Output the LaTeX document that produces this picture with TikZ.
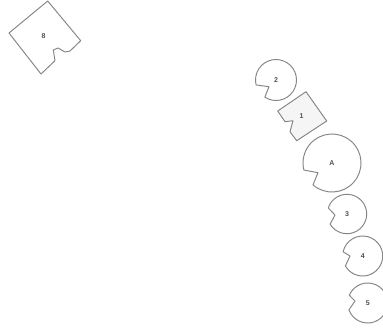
\documentclass[tikz,border=0pt]{standalone}
\usepackage{fontspec}
\setmainfont{Liberation Sans}
\definecolor{ink}{HTML}{858585}
\definecolor{labelink}{HTML}{505050}
\tikzset{outline/.style={draw=ink,line width=.95pt,line join=round},
  tag/.style={font=\fontsize{7}{8}\selectfont\bfseries,text=labelink,inner sep=0pt}}
\begin{document}
\begin{tikzpicture}[x=1pt,y=-1pt]
\useasboundingbox[fill=white] (0,0) rectangle (383,333);
% large square, top left
\draw[outline] (47.7,1)--(9,33)--(41,74)--(55,60.7)--(53.3,50)--(58,48)--(65,52)--(70,51)--(80.7,40.7)--cycle;
\node[tag] (big) at (43.5,36) {8};
% small square
\draw[outline,fill=black!4] (306,91.7)--(277.7,111)--(285,121.7)--(293,120.7)--(290,131.7)--(296.7,140.7)--(326.7,121)--cycle;
\node[tag] (one) at (301.5,116) {1};
% round pieces: centre, radius, mouth
\foreach \name/\x/\y/\r/\from/\to/\ax/\ay/\lab in {
  two/276/80/20.5/194/237/269/86.7/2,
  main/332/163/29/194/229/318/172.7/A,
  three/347/214/19.7/162/211/335/215/3,
  four/362.7/256/20/168/210/350/256/4,
  five/367.7/303/20/157/200/355/301/5}{
\draw[outline] (\ax,\ay)--({\x+\r*cos(\to)},{\y-\r*sin(\to)}) arc[start angle=-\to,end angle={-\from-360},radius=\r]--cycle;
\node[tag] (\name) at (\x,\y) {\lab};
}
\end{tikzpicture}
\end{document}
